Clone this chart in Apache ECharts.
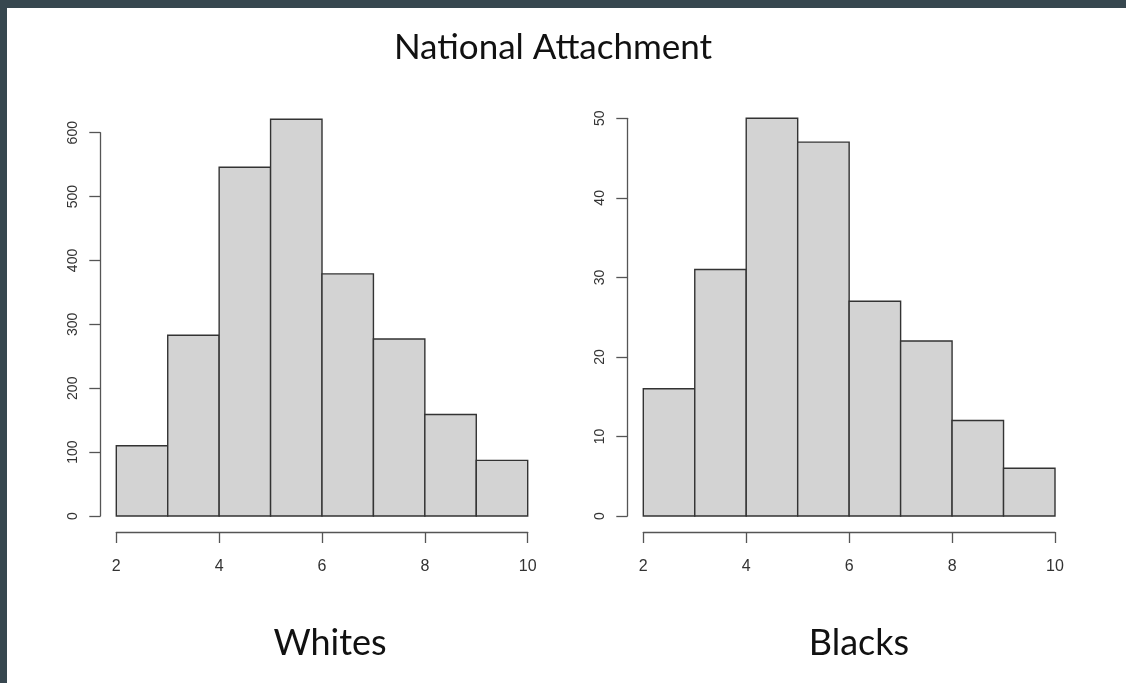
<!DOCTYPE html>
<html>
<head>
<meta charset="utf-8">
<script src="https://cdn.jsdelivr.net/npm/echarts@6/dist/echarts.min.js"></script>
<style>
  html, body { margin: 0; padding: 0; background: #37474f; width: 1126px; height: 683px; overflow: hidden; }
  #chart { position: absolute; left: 7px; top: 8px; width: 1119px; height: 675px; background: #ffffff; }
</style>
</head>
<body>
<div id="chart"></div>
<script>
// Histogram bin edges (shared by both panels)
const breaks = [2, 3, 4, 5, 6, 7, 8, 9, 10];
// Counts per bin
const whitesCounts = [110, 283, 546, 621, 379, 277, 159, 87];
const blacksCounts = [16, 31, 50, 47, 27, 22, 12, 6];
// Axis tick labels
const xTicks = [2, 4, 6, 8, 10];
const whitesYTicks = [0, 100, 200, 300, 400, 500, 600];
const blacksYTicks = [0, 10, 20, 30, 40, 50];

const mainTitle = 'National Attachment';
const panelTitles = ['Whites', 'Blacks'];

function binData(counts) {
  return counts.map((c, i) => [breaks[i], breaks[i + 1], c]);
}

function renderBin(params, api) {
  const lo = api.coord([api.value(0), 0]);
  const hi = api.coord([api.value(1), api.value(2)]);
  return {
    type: 'rect',
    shape: { x: lo[0], y: hi[1], width: hi[0] - lo[0], height: lo[1] - hi[1] },
    style: { fill: '#d3d3d3', stroke: '#333333', lineWidth: 1.4 }
  };
}

const axisColor = '#555555';

function xAxisDef(gridIndex) {
  return {
    type: 'value', gridIndex, min: breaks[0], max: breaks[breaks.length - 1], interval: 2,
    offset: 16,
    axisLine: { show: true, onZero: false, lineStyle: { color: axisColor, width: 1.3 } },
    axisTick: { show: true, length: 11, lineStyle: { color: axisColor, width: 1.3 } },
    axisLabel: { margin: 27, customValues: xTicks, fontFamily: 'Liberation Sans', fontSize: 16, color: '#333333' },
    splitLine: { show: false }
  };
}

function yAxisDef(gridIndex, ticks) {
  return {
    type: 'value', gridIndex, min: ticks[0], max: ticks[ticks.length - 1],
    interval: ticks[1] - ticks[0],
    offset: 16,
    axisLine: { show: true, lineStyle: { color: axisColor, width: 1.3 } },
    axisTick: { show: true, length: 11, lineStyle: { color: axisColor, width: 1.3 } },
    axisLabel: { margin: 20, rotate: 90, fontFamily: 'Liberation Sans', fontSize: 14, color: '#333333' },
    splitLine: { show: false }
  };
}

const chart = echarts.init(document.getElementById('chart'), null, { renderer: 'canvas' });

chart.setOption({
  backgroundColor: '#ffffff',
  animation: false,
  grid: [
    { left: 109.3, top: 124.7, width: 411.4, height: 383.3 },
    { left: 636.3, top: 110.3, width: 411.7, height: 397.7 }
  ],
  xAxis: [xAxisDef(0), xAxisDef(1)],
  yAxis: [yAxisDef(0, whitesYTicks), yAxisDef(1, blacksYTicks)],
  series: [
    { type: 'custom', xAxisIndex: 0, yAxisIndex: 0, clip: false, renderItem: renderBin, data: binData(whitesCounts) },
    { type: 'custom', xAxisIndex: 1, yAxisIndex: 1, clip: false, renderItem: renderBin, data: binData(blacksCounts) }
  ],
  graphic: [
    { type: 'text', x: 546, y: 40, style: { text: mainTitle, align: 'center', verticalAlign: 'middle', fontFamily: 'Lato', fontSize: 35, fill: '#111111' } },
    { type: 'text', x: 323, y: 635, style: { text: panelTitles[0], align: 'center', verticalAlign: 'middle', fontFamily: 'Lato', fontSize: 36, fill: '#111111' } },
    { type: 'text', x: 852, y: 635, style: { text: panelTitles[1], align: 'center', verticalAlign: 'middle', fontFamily: 'Lato', fontSize: 36, fill: '#111111' } }
  ]
});
</script>
</body>
</html>
